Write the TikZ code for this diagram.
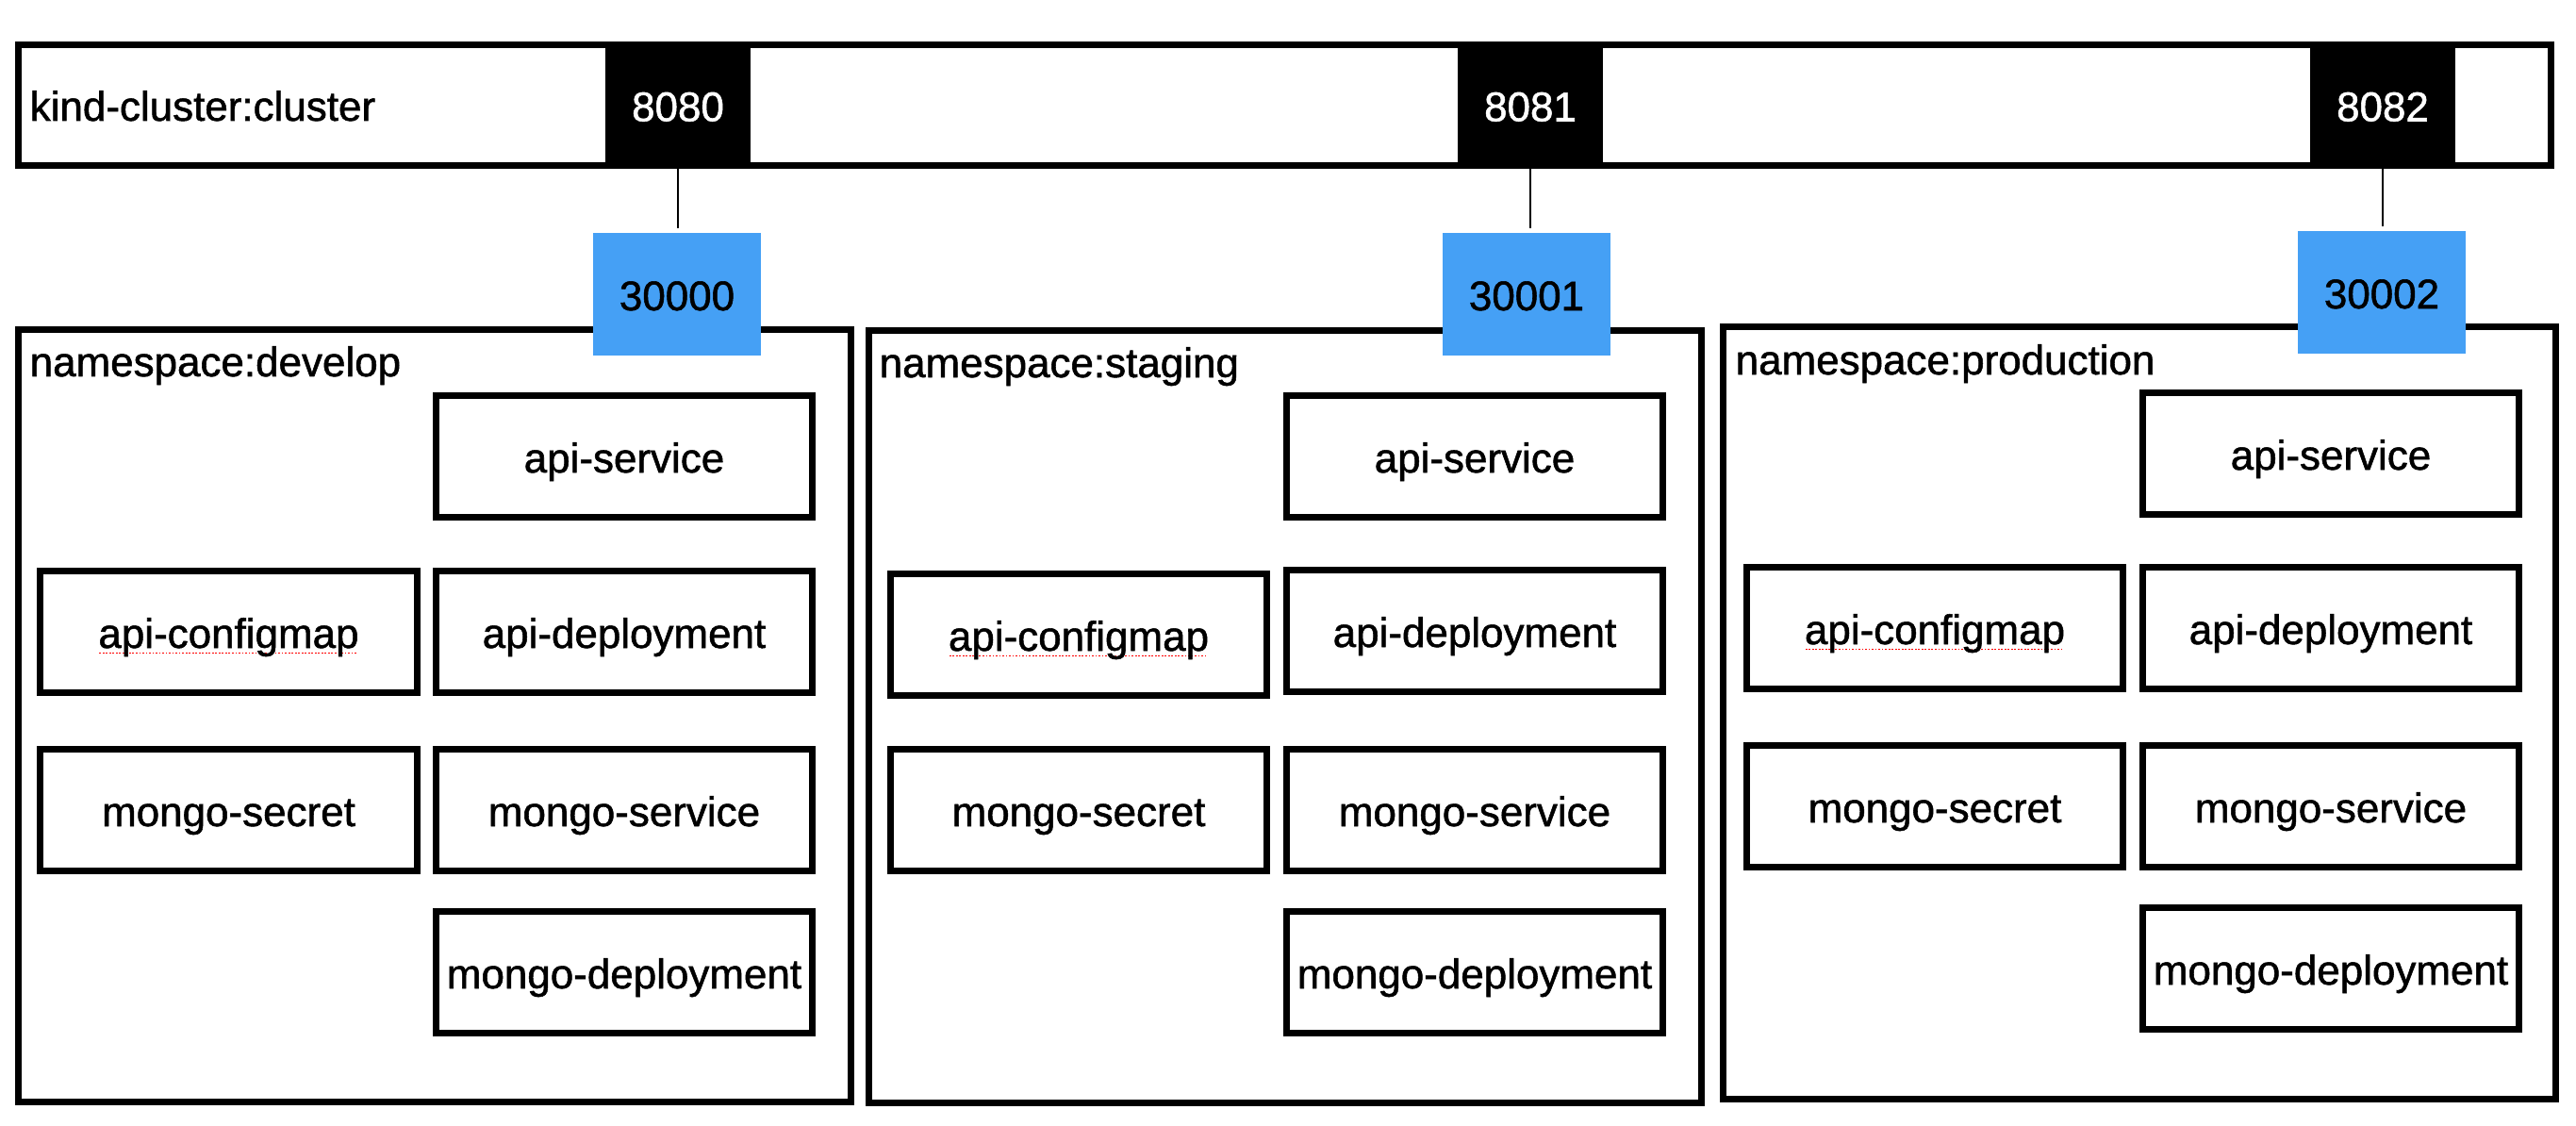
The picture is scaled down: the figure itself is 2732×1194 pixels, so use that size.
\documentclass[tikz,border=0pt]{standalone}
\usepackage{xcolor}
\usepackage{fontspec}
\setmainfont{Liberation Sans}[UprightFeatures={FakeBold=1.2}]
\usepackage{tikz}

\definecolor{portblue}{RGB}{69,160,245}
%spell-check dots under a word
\newcommand\squig[1]{\setbox0\hbox{#1}\rlap{\color{red}\leaders\hbox to 1pt{\hss\rule[-1.8pt]{0.5pt}{0.5pt}\hss}\hskip\wd0}\box0}

\tikzset{
  every node/.style={font=\fontsize{12.5pt}{15pt}\selectfont},
  clusterbar/.style={draw, line width=2pt, minimum width=26.85cm, minimum height=1.28cm, inner sep=0pt},
  hostport/.style={draw, fill=black, text=white, line width=2pt, minimum width=1.47cm, minimum height=1.28cm, inner sep=0pt, text height=0.34cm, text depth=0pt},
  nodeport/.style={fill=portblue, minimum width=1.78cm, minimum height=1.30cm, inner sep=0pt, text height=0.34cm, text depth=0pt},
  nsbox/.style={draw, line width=2pt, minimum width=8.82cm, minimum height=8.18cm, inner sep=0pt},
  nslabel/.style={anchor=base west, inner sep=0pt},
  resbox/.style={draw, line width=2pt, minimum width=3.99cm, minimum height=1.29cm, inner sep=0pt, text height=0.34cm, text depth=0pt},
  link/.style={line width=0.8pt, shorten >=1.2pt}
}

\begin{document}
\begin{tikzpicture}[x=0.01cm,y=-0.01cm]
\useasboundingbox (0,0) rectangle (2732,1194);
%cluster
\node[clusterbar] (cluster) at (1362.5,111.5) {};
\node[nslabel] (cluster-lbl) at (31,128) {kind-cluster:cluster};
\node[hostport] (p8080) at (719,111.5) {8080};
\node[hostport] (p8081) at (1623,111.5) {8081};
\node[hostport] (p8082) at (2527,111.5) {8082};
%namespaces
\node[nsbox] (dev) at (461,759) {};
\node[nsbox] (stg) at (1363,760) {};
\node[nsbox] (prd) at (2269,756) {};
\node[nslabel] (dev-lbl) at (31,399) {namespace:develop};
\node[nslabel] (stg-lbl) at (932,400) {namespace:staging};
\node[nslabel] (prd-lbl) at (1840,397) {namespace:production};
%develop
\node[resbox] (dev-as) at (662,484) {api-service};
\node[resbox] (dev-cm) at (242.5,670) {\squig{api-configmap}};
\node[resbox] (dev-ad) at (662,670) {api-deployment};
\node[resbox] (dev-ms) at (242.5,859) {mongo-secret};
\node[resbox] (dev-mv) at (662,859) {mongo-service};
\node[resbox] (dev-md) at (662,1031) {mongo-deployment};
%staging
\node[resbox] (stg-as) at (1564,484) {api-service};
\node[resbox] (stg-cm) at (1144,673) {\squig{api-configmap}};
\node[resbox] (stg-ad) at (1564,669) {api-deployment};
\node[resbox] (stg-ms) at (1144,859) {mongo-secret};
\node[resbox] (stg-mv) at (1564,859) {mongo-service};
\node[resbox] (stg-md) at (1564,1031) {mongo-deployment};
%production
\node[resbox] (prd-as) at (2472,481) {api-service};
\node[resbox] (prd-cm) at (2052,666) {\squig{api-configmap}};
\node[resbox] (prd-ad) at (2472,666) {api-deployment};
\node[resbox] (prd-ms) at (2052,855) {mongo-secret};
\node[resbox] (prd-mv) at (2472,855) {mongo-service};
\node[resbox] (prd-md) at (2472,1027) {mongo-deployment};
%node ports
\node[nodeport] (n30000) at (718,312) {30000};
\node[nodeport] (n30001) at (1619,312) {30001};
\node[nodeport] (n30002) at (2526,310) {30002};
\draw[link] (p8080.south) -- (p8080.south |- n30000.north);
\draw[link] (p8081.south) -- (p8081.south |- n30001.north);
\draw[link] (p8082.south) -- (p8082.south |- n30002.north);
\end{tikzpicture}
\end{document}
